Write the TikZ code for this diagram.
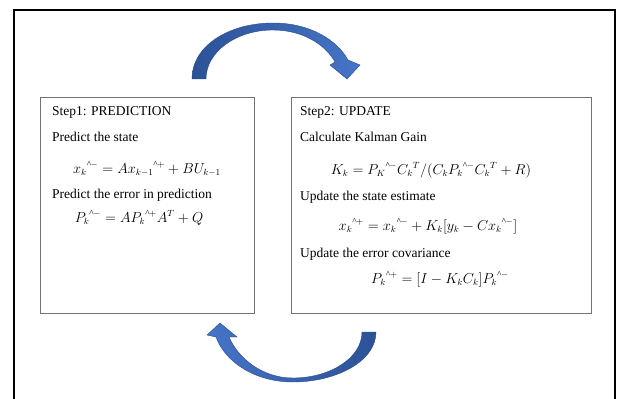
\documentclass[tikz,border=0pt]{standalone}
\usepackage{amsmath}
\usepackage{fontspec}
\setmainfont{Liberation Serif}
\newcommand\km{{}^{\text{\textasciicircum}\mkern-1mu-}}
\newcommand\kp{{}^{\text{\textasciicircum}\mkern-1mu+}}
\begin{document}
\begin{tikzpicture}[x=1pt,y=-1pt,
  txt/.style={anchor=base west,inner sep=0pt,font=\fontsize{13.5}{16}\selectfont},
  eqn/.style={anchor=base,inner sep=0pt,font=\fontsize{13.5}{16}\selectfont},
  stepbox/.style={draw=black!55,line width=1.1pt},
  arrowfill/.style={draw={rgb,255:red,40;green,75;blue,140},line width=0.4pt}]
\useasboundingbox (0,0) rectangle (617,398);
% outer frame (open at the bottom, continues past the edge)
\draw[line width=1.9pt] (14,400) -- (14,10) -- (615,10) -- (615,400);
% boxes
\node[stepbox,minimum width=214pt,minimum height=216pt,inner sep=0pt,anchor=north west] (pred) at (40,97) {};
\node[stepbox,minimum width=300pt,minimum height=216pt,inner sep=0pt,anchor=north west] (upd) at (291,97) {};
% left box texts
\node[txt] (s1) at (52,116) {Step1: PREDICTION};
\node[txt] (l1) at (52,142) {Predict the state};
\node[eqn] (e1) at (147,173) {$x_k\km = Ax_{k-1}\kp + BU_{k-1}$};
\node[txt] (l2) at (52,198) {Predict the error in prediction};
\node[eqn] (e2) at (139,222) {$P_k\km = AP_k\kp A^T + Q$};
% right box texts
\node[txt] (s2) at (300,116) {Step2: UPDATE};
\node[txt] (r1) at (300,142) {Calculate Kalman Gain};
\node[eqn] (f1) at (431,174) {$K_k = P_K\km C_k{}^T/(C_kP_k\km C_k{}^T + R)$};
\node[txt] (r2) at (300,200) {Update the state estimate};
\node[eqn] (f2) at (428,230) {$x_k\kp = x_k\km + K_k[y_k - Cx_k\km]$};
\node[txt] (r3) at (300,257) {Update the error covariance};
\node[eqn] (f3) at (440,283) {$P_k\kp = [I - K_kC_k]P_k\km$};
% top curved arrow (prediction -> update)
\shade[arrowfill,left color={rgb,255:red,44;green,82;blue,150},right color={rgb,255:red,70;green,116;blue,200}]
  (192,79) .. controls (192,45) and (230,23) .. (273,23)
  .. controls (310,23) and (337,40) .. (348,60)
  -- (360,65) -- (347,79) -- (330,65) -- (335,62)
  .. controls (325,44) and (302,30) .. (273,30)
  .. controls (236,30) and (206,52) .. (206,79) -- cycle;
% bottom curved arrow (update -> prediction)
\shade[arrowfill,left color={rgb,255:red,70;green,116;blue,200},right color={rgb,255:red,44;green,82;blue,150}]
  (376,332) .. controls (376,362) and (335,382) .. (293,382)
  .. controls (255,382) and (225,362) .. (216,337)
  -- (207,335) -- (220,323) -- (237,337) -- (229,337)
  .. controls (238,358) and (262,378) .. (293,378)
  .. controls (330,378) and (362,358) .. (362,332) -- cycle;
\end{tikzpicture}
\end{document}
